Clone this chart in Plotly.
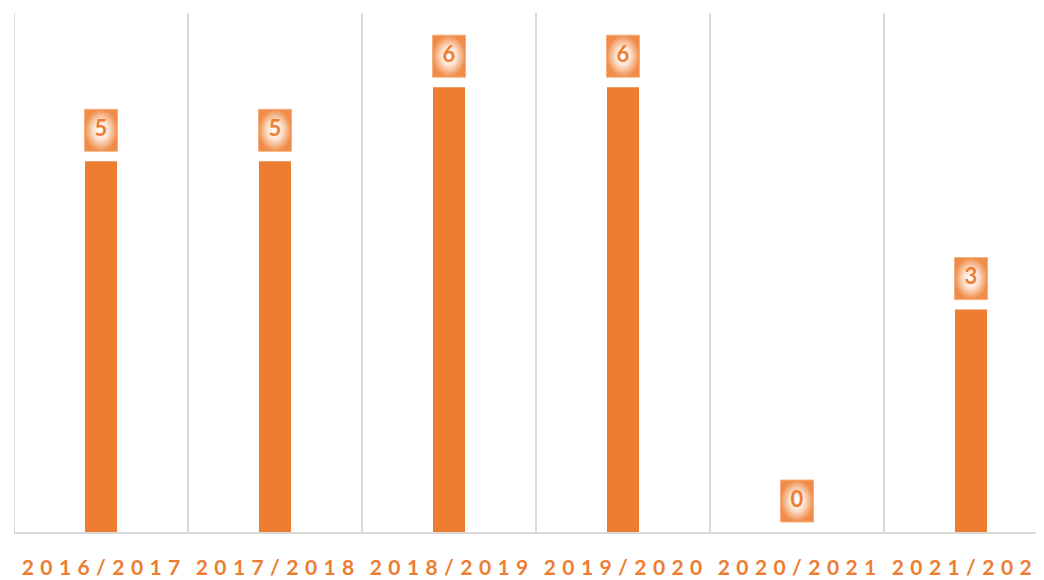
import plotly.graph_objects as go

categories = ["2016/2017", "2017/2018", "2018/2019", "2019/2020", "2020/2021", "2021/2022"]
values = [5, 5, 6, 6, 0, 3]

ORANGE = "#ED7D31"
GRID = "#D9D9D9"

# pixel geometry helpers (plot area 1030 x 519 px)
Y_MAX = 7.0
PLOT_H = 519
PLOT_W = 1030
CAT_PX = 174
y_per_px = Y_MAX / PLOT_H
x_per_px = 1.0 / CAT_PX

box_w = 33 * x_per_px
box_h = 42 * y_per_px
box_gap = 10 * y_per_px

def spaced(s):
    return "\u00a0\u200a".join(list(s))

fig = go.Figure()
fig.add_trace(go.Bar(x=list(range(len(categories))), y=values, marker_color=ORANGE,
                     marker_line_width=0, hoverinfo="skip"))

for i, v in enumerate(values):
    y0 = v + box_gap
    y1 = y0 + box_h
    x0 = i - box_w / 2
    x1 = i + box_w / 2
    fig.add_trace(go.Scatter(
        x=[x0, x1, x1, x0, x0], y=[y0, y0, y1, y1, y0], mode="lines",
        fill="toself",
        fillgradient=dict(type="radial",
                          colorscale=[[0, "#FFFFFF"], [0.45, "#FCE4D2"], [1, "#F08C48"]]),
        line=dict(color="#F6B07F", width=1), hoverinfo="skip", showlegend=False))
    fig.add_trace(go.Scatter(
        x=[i], y=[(y0 + y1) / 2], mode="text", text=[str(v)],
        textfont=dict(family="Lato", size=22, color=ORANGE, weight="bold"),
        textposition="middle center", hoverinfo="skip", showlegend=False))

# page body has an 8px default margin; compensate so the plot sits where the reference's does
fig.update_layout(
    width=1036, height=572,
    margin=dict(l=6, r=0, t=5, b=48),
    plot_bgcolor="white", paper_bgcolor="white",
    showlegend=False,
    bargap=1 - 32 / CAT_PX,
)
fig.update_xaxes(
    type="linear",
    range=[-0.5, -0.5 + PLOT_W / CAT_PX],
    tickvals=list(range(len(categories))),
    ticktext=[spaced(c) for c in categories],
    tickfont=dict(family="Lato", size=21, color=ORANGE, weight="bold"),
    tickangle=0, automargin=False, ticklabeloverflow="allow",
    ticks="outside", ticklen=16, tickcolor="rgba(0,0,0,0)",
    showgrid=False, zeroline=False,
    showline=True, linecolor=GRID, linewidth=2,
)
fig.update_yaxes(range=[0, Y_MAX], showticklabels=False, showgrid=False, zeroline=False,
                 showline=False, automargin=False)

# vertical separators between categories (gridlines on category boundaries)
for k in range(len(categories) + 1):
    fig.add_shape(type="line", x0=k - 0.5, x1=k - 0.5, y0=0, y1=1, xref="x", yref="paper",
                  line=dict(color=GRID, width=2), layer="below")

fig.write_html("out.html")
